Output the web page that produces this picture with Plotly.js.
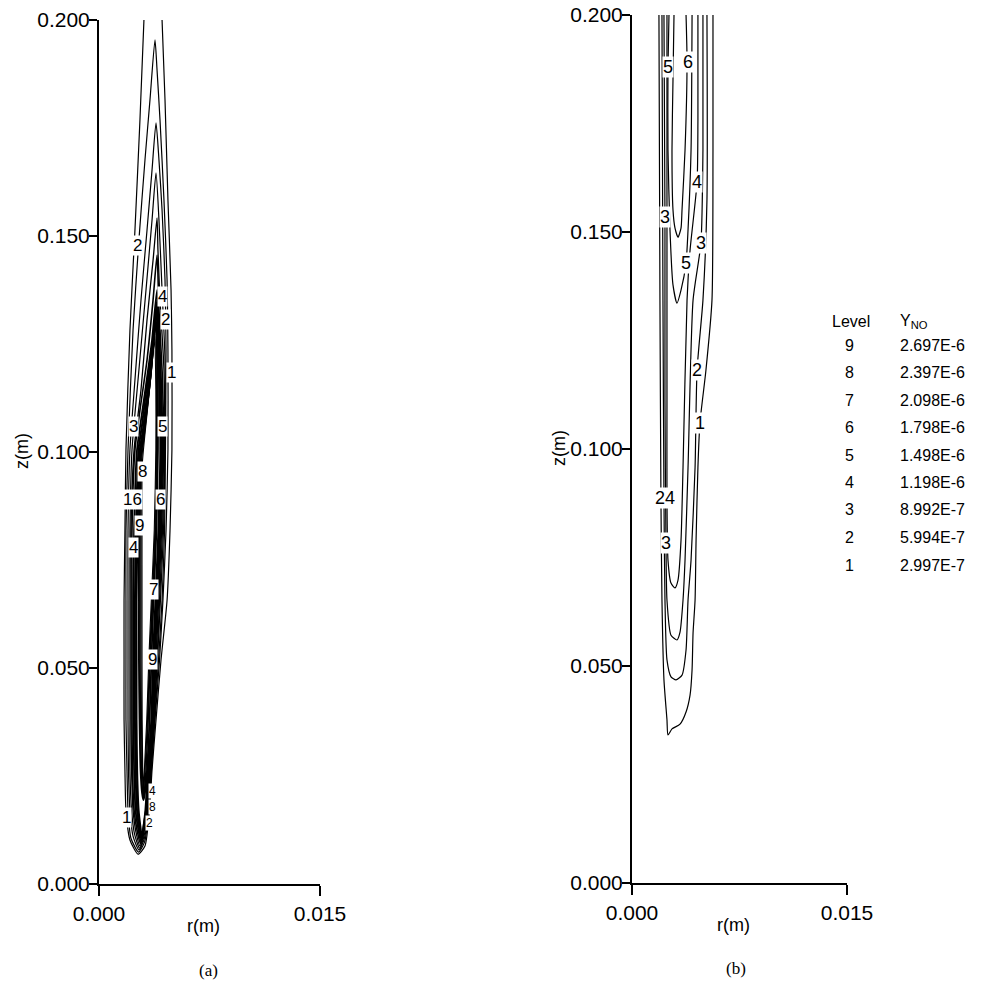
<!DOCTYPE html>
<html><head><meta charset="utf-8">
<script src="https://cdn.plot.ly/plotly-3.0.1.min.js"></script>
<style>html,body{margin:0;padding:0;background:#fff}#chart{width:983px;height:981px}</style>
</head><body><div id="chart"></div>
<script>
// ---------- axis ticks ----------
const xTickVals = [0, 0.015];
const xTickText = ['0.000', '0.015'];
const yTickVals = [0, 0.05, 0.10, 0.15, 0.20];
const yTickText = ['0.000', '0.050', '0.100', '0.150', '0.200'];

// ---------- legend table ----------
const legendLevels = ['9', '8', '7', '6', '5', '4', '3', '2', '1'];
const legendValues = ['2.697E-6', '2.397E-6', '2.098E-6', '1.798E-6', '1.498E-6', '1.198E-6', '8.992E-7', '5.994E-7', '2.997E-7'];

// ---------- panel (a): contour lines, r and z in mm ----------
const a1R = [3.05,2.78,2.44,2.10,1.83,1.76,1.70,1.70,1.70,1.76,1.83,2.10,2.65,3.12,3.43,3.60,3.87,4.21,4.62,4.82,4.95,4.95,4.89,4.68,4.48,4.28];
const a1Z = [200.0,176.9,151.4,128.2,100.5,81.9,65.7,51.9,38.0,26.4,17.1,10.2,6.9,8.8,17.1,26.4,38.0,51.9,65.7,81.9,100.5,123.6,137.5,158.3,181.5,200.0];
const a2R = [3.80,3.46,3.12,2.71,2.31,1.97,1.83,1.83,1.83,1.83,1.90,1.97,2.17,2.68,3.09,3.39,3.56,3.80,4.11,4.34,4.55,4.68,4.68,4.62,4.41,4.14,3.94,3.80];
const a2Z = [195.4,181.5,167.6,149.1,128.2,100.5,81.9,65.7,51.9,38.0,26.4,17.1,10.6,7.4,9.7,17.1,26.4,38.0,51.9,65.7,81.9,100.5,123.6,139.8,158.3,176.9,188.4,195.4];
const a3R = [3.87,3.60,3.26,2.85,2.44,2.10,1.97,1.97,1.97,1.97,2.00,2.10,2.31,2.71,3.05,3.36,3.53,3.77,4.04,4.28,4.45,4.51,4.55,4.48,4.28,4.07,3.87];
const a3Z = [176.2,165.3,151.4,135.2,116.7,100.5,81.9,65.7,51.9,38.0,26.4,17.1,11.1,7.9,10.2,17.1,26.4,38.0,51.9,65.7,81.9,100.5,123.6,139.8,156.0,167.6,176.2];
const a4R = [3.87,3.60,3.19,2.71,2.24,2.10,2.10,2.10,2.10,2.10,2.21,2.41,2.75,3.02,3.33,3.50,3.73,3.97,4.17,4.38,4.48,4.48,4.28,4.07,3.87];
const a4Z = [164.6,153.7,137.5,119.0,100.5,81.9,65.7,51.9,38.0,26.4,17.1,11.6,8.3,10.6,17.1,26.4,38.0,51.9,65.7,81.9,100.5,121.3,137.5,153.7,164.6];
const a5R = [3.94,3.67,3.26,2.85,2.38,2.17,2.17,2.17,2.17,2.21,2.31,2.51,2.78,2.99,3.29,3.46,3.70,3.94,4.11,4.31,4.45,4.41,4.14,4.00,3.94];
const a5Z = [154.2,144.4,130.6,114.4,100.5,81.9,65.7,51.9,38.0,26.4,17.1,12.0,8.8,11.1,17.1,26.4,38.0,51.9,65.7,81.9,100.5,119.0,135.2,146.8,154.2];
const a6R = [3.94,3.67,3.26,2.78,2.44,2.24,2.24,2.24,2.24,2.27,2.38,2.58,2.82,2.99,3.26,3.43,3.67,3.87,4.04,4.24,4.38,4.31,4.07,3.94];
const a6Z = [145.6,135.2,121.3,109.7,100.5,81.9,65.7,51.9,38.0,26.4,17.1,12.5,9.3,11.6,17.1,26.4,38.0,51.9,65.7,81.9,100.5,116.7,132.9,145.6];
const a7R = [3.94,3.60,3.19,2.85,2.58,2.38,2.34,2.34,2.34,2.38,2.48,2.65,2.85,2.99,3.22,3.39,3.63,3.80,3.97,4.17,4.31,4.24,4.07,3.94];
const a7Z = [137.5,125.9,115.5,107.4,100.5,81.9,65.7,51.9,38.0,26.4,17.1,13.0,9.7,12.0,17.1,26.4,38.0,51.9,65.7,81.9,100.5,114.4,128.2,137.5];
const a8R = [3.94,3.60,3.12,2.92,2.68,2.51,2.44,2.44,2.44,2.48,2.58,2.71,2.88,2.99,3.19,3.36,3.60,3.73,3.90,4.11,4.24,4.17,4.04,3.94];
const a8Z = [135.2,123.6,112.0,106.2,100.5,81.9,65.7,51.9,38.0,26.4,17.1,13.4,10.2,12.5,17.1,26.4,38.0,51.9,65.7,81.9,100.5,114.4,125.9,135.2];
const a9R = [3.94,3.60,3.19,2.99,2.78,2.61,2.54,2.54,2.54,2.58,2.68,2.78,2.92,3.02,3.16,3.33,3.56,3.67,3.84,4.04,4.17,4.11,4.00,3.94];
const a9Z = [134.0,122.5,110.9,105.1,100.5,81.9,65.7,51.9,38.0,26.4,17.1,13.9,10.6,13.0,17.1,26.4,38.0,51.9,65.7,81.9,100.5,114.4,124.8,134.0];
// inner (fuel-side) loops of the high levels
const h9R = [3.87,3.53,3.12,2.82,2.71,2.71,2.71,2.75,2.82,2.92,3.02,3.12,3.26,3.43,3.56,3.70,3.90,4.00,4.00,3.87];
const h9Z = [131.0,118.5,106.9,99.3,81.9,65.7,51.9,38.0,26.4,21.1,19.4,21.1,26.4,38.0,51.9,65.7,81.9,100.5,116.7,131.0];
const h8R = [3.84,3.50,3.12,2.85,2.78,2.78,2.78,2.82,2.88,2.95,3.02,3.09,3.19,3.34,3.47,3.64,3.85,3.95,3.95,3.84];
const h8Z = [129.2,117.1,106.0,98.6,81.9,65.7,51.9,38.0,26.4,21.8,20.1,21.8,26.4,38.0,51.9,65.7,81.9,100.5,116.7,129.2];
const h7R = [3.80,3.46,3.12,2.88,2.85,2.85,2.85,2.88,2.94,2.99,3.02,3.05,3.12,3.29,3.43,3.60,3.80,3.90,3.90,3.80];
const h7Z = [127.3,115.7,105.1,97.7,81.9,65.7,51.9,38.0,26.4,22.5,20.8,22.5,26.4,38.0,51.9,65.7,81.9,100.5,115.5,127.3];
const h6R = [3.77,3.43,3.12,2.93,2.92,2.92,2.92,2.93,2.97,3.01,3.03,3.05,3.08,3.24,3.38,3.55,3.75,3.86,3.86,3.77];
const h6Z = [125.5,114.4,104.2,96.8,81.9,65.7,51.9,38.0,26.4,23.1,21.8,23.1,26.4,38.0,51.9,65.7,81.9,100.5,114.4,125.5];
// contour labels (a)
const aLabText = ['2','4','2','1','3','5','8','16','6','9','4','7','9','4','8','2','1'];
const aLabR = [2.58,4.28,4.48,4.95,2.31,4.34,2.92,2.24,4.14,2.78,2.31,3.67,3.60,3.62,3.60,3.46,1.90];
const aLabZ = [147.9,135.9,130.6,118.3,105.8,105.8,95.4,88.9,88.9,83.1,78.0,68.1,51.9,21.6,17.9,14.2,15.5];

// ---------- panel (b): contour lines, r and z in mm ----------
const b1R = [1.88,1.95,2.02,2.09,2.23,2.44,2.51,2.79,3.35,3.77,4.05,4.19,4.26,4.40,4.47,4.60,4.74,5.16,5.58,5.65,5.65];
const b1Z = [200,134.3,88.2,65.2,46.8,37.6,34.1,35.5,36.6,39.4,43.3,49.1,57.6,65.2,79.0,95.8,106.0,118.2,134.3,168.9,200];
const b2R = [2.09,2.16,2.23,2.30,2.44,2.72,3.07,3.49,3.77,3.91,4.12,4.40,4.54,4.95,5.23,5.23];
const b2Z = [200,134.3,88.7,65.2,51.4,47.5,46.8,47.9,53.7,65.2,74.4,95.8,118.2,134.3,157.4,200];
const b3R = [2.23,2.30,2.30,2.37,2.44,2.72,3.14,3.35,3.56,3.70,3.91,4.26,4.81,4.95,4.95];
const b3Z = [200,153.4,111.3,78.3,65.2,57.1,56.0,57.8,65.2,74.4,95.8,134.3,147.5,168.9,200];
const b4R = [2.44,2.44,2.44,2.44,2.51,2.72,3.00,3.21,3.42,3.56,3.84,4.05,4.54,4.60,4.60];
const b4Z = [200,157.4,111.3,88.7,74.4,69.1,68.0,69.8,79.0,95.8,134.3,145.8,161.5,175.8,200];
const b5R = [2.58,2.51,2.51,2.65,2.86,3.14,3.42,3.77,3.91,4.12,4.19];
const b5Z = [200,188.0,168.9,150.5,137.8,133.6,136.6,142.8,150.5,168.9,200];
const b6R = [2.93,2.86,2.79,2.86,3.00,3.21,3.42,3.49,3.70,3.84,3.77];
const b6Z = [200,185.0,168.9,155.1,150.9,148.8,150.9,155.1,168.9,189.2,200];
const bLabText = ['5','6','4','3','3','5','2','1','24','3'];
const bLabR = [2.51,3.91,4.54,2.30,4.81,3.77,4.54,4.74,2.30,2.37];
const bLabZ = [188.0,189.2,161.5,153.4,147.5,142.8,118.2,106.0,88.7,78.3];

// ---------- build ----------
const mm = v => v / 1000;
function line(r, z, xa, ya, w) {
  return {type:'scatter', mode:'lines', x:r.map(mm), y:z.map(mm), xaxis:xa, yaxis:ya,
          line:{color:'#000', width:w, shape:'spline', smoothing:0.6}, hoverinfo:'skip', showlegend:false};
}
const traces = [
  line(a1R,a1Z,'x','y',1.2), line(a2R,a2Z,'x','y',1.2), line(a3R,a3Z,'x','y',1.2),
  line(a4R,a4Z,'x','y',1.2), line(a5R,a5Z,'x','y',1.3), line(a6R,a6Z,'x','y',1.6),
  line(a7R,a7Z,'x','y',1.8), line(a8R,a8Z,'x','y',2.0), line(a9R,a9Z,'x','y',2.2),
  line(h9R,h9Z,'x','y',1.8), line(h8R,h8Z,'x','y',1.5), line(h7R,h7Z,'x','y',1.2), line(h6R,h6Z,'x','y',1.1),
  line(b1R,b1Z,'x2','y2',1.2), line(b2R,b2Z,'x2','y2',1.2), line(b3R,b3Z,'x2','y2',1.2),
  line(b4R,b4Z,'x2','y2',1.2), line(b5R,b5Z,'x2','y2',1.2), line(b6R,b6Z,'x2','y2',1.2)
];

const tickFont = {family:'Arial, "Liberation Sans", sans-serif', size:21, color:'#000'};
function xax(dom, anchor) {
  return {domain:dom, range:[0,0.015], tickvals:xTickVals, ticktext:xTickText, ticks:'outside', ticklen:10,
          tickwidth:2, tickcolor:'#000', showline:true, linewidth:2, linecolor:'#000', showgrid:false,
          zeroline:false, tickfont:tickFont, anchor:anchor, fixedrange:true};
}
function yax(dom, anchor) {
  return {domain:dom, range:[0,0.2], tickvals:yTickVals, ticktext:yTickText, ticks:'outside', ticklen:8,
          tickwidth:2, tickcolor:'#000', showline:true, linewidth:2, linecolor:'#000', showgrid:false,
          zeroline:false, tickfont:tickFont, anchor:anchor, fixedrange:true, ticklabelstandoff:-5};
}

const ann = [];
const fam = 'Arial, "Liberation Sans", sans-serif';
const base = {showarrow:false, xanchor:'center', yanchor:'middle'};
aLabText.forEach((t,i) => {
  const small = aLabZ[i] < 25 && aLabR[i] > 3;   // tightly packed labels near the flame tip
  ann.push(Object.assign({}, base, {xref:'x', yref:'y', x:mm(aLabR[i]), y:mm(aLabZ[i]), text:t,
    font:{family:fam, size: small ? 12 : 17, color:'#000'}, bgcolor:'#fff', borderpad:0}));
});
bLabText.forEach((t,i) => ann.push(Object.assign({}, base, {xref:'x2', yref:'y2', x:mm(bLabR[i]), y:mm(bLabZ[i]), text:t,
  font:{family:fam, size:18, color:'#000'}, bgcolor:'#fff', borderpad:0})));
const W = 983, H = 981;
const px = (x) => x / W, py = (y) => 1 - y / H;
const titleFont = {family:fam, size:18, color:'#000'};
const serif = {family:'"Liberation Serif", "DejaVu Serif", serif', size:17, color:'#000'};
function paperText(x, y, text, font, extra) {
  ann.push(Object.assign({}, base, {xref:'paper', yref:'paper', x:px(x), y:py(y), text:text, font:font}, extra || {}));
}
paperText(203, 926, 'r(m)', titleFont);
paperText(733, 925, 'r(m)', titleFont);
paperText(22, 451, 'z(m)', titleFont, {textangle:-90});
paperText(559, 448, 'z(m)', titleFont, {textangle:-90});
paperText(208, 970, '(a)', serif);
paperText(736, 968, '(b)', serif);
const legFont = {family:fam, size:16, color:'#000'};
paperText(830, 321, 'Level', legFont, {xanchor:'left'});
paperText(898, 321, 'Y<sub>NO</sub>', legFont, {xanchor:'left'});
legendLevels.forEach((lv,i) => {
  const yy = 345 + i * 27.5;
  paperText(849, yy, lv, legFont);
  paperText(898, yy, legendValues[i], legFont, {xanchor:'left'});
});

const layout = {
  width:W, height:H, margin:{l:0,r:0,t:0,b:0}, paper_bgcolor:'#fff', plot_bgcolor:'#fff', showlegend:false,
  xaxis: xax([99/W, 320/W], 'y'),
  yaxis: yax([1-884/H, 1-20/H], 'x'),
  xaxis2: xax([632/W, 847/W], 'y2'),
  yaxis2: yax([1-883/H, 1-15/H], 'x2'),
  annotations: ann
};
Plotly.newPlot('chart', traces, layout, {displayModeBar:false, staticPlot:true});
</script></body></html>
